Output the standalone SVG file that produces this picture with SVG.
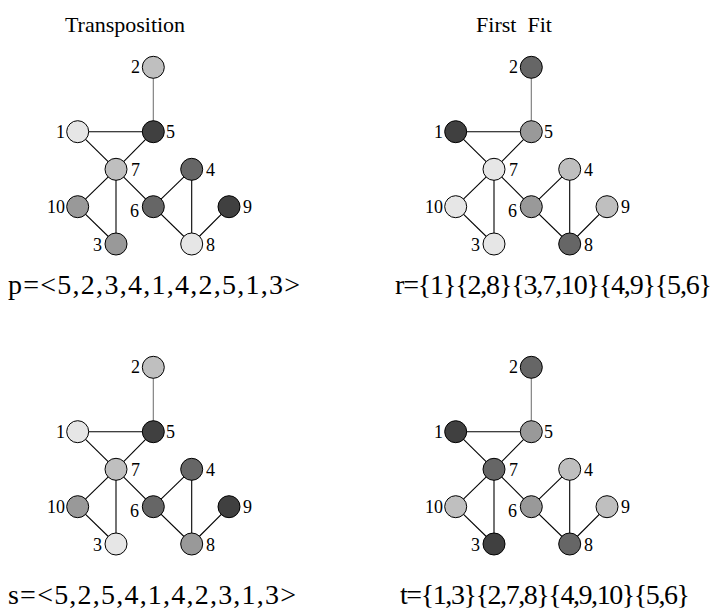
<svg xmlns="http://www.w3.org/2000/svg" width="714" height="612" viewBox="0 0 714 612" font-family="'Liberation Serif','Times New Roman',serif">
<style>
text{font-family:"Liberation Serif","Times New Roman",serif;fill:#000}
.t{font-size:22px;text-anchor:middle}
.f{font-size:28px}
.l{font-size:18px}
.e{text-anchor:end}
circle{stroke:#000;stroke-width:1}
.c1{fill:#e6e6e6}.c2{fill:#bfbfbf}.c3{fill:#999999}.c4{fill:#666666}.c5{fill:#404040}
</style>
<defs>
<g id="edgeset" stroke="#000" stroke-width="1.1">
<line stroke="#777" x1="153.3" y1="67.3" x2="153.3" y2="131.7"/>
<line x1="77.7" y1="131.7" x2="153.3" y2="131.7"/>
<line x1="77.7" y1="131.7" x2="116" y2="169.3"/>
<line x1="153.3" y1="131.7" x2="116" y2="169.3"/>
<line x1="116" y1="169.3" x2="77.7" y2="206.7"/>
<line x1="116" y1="169.3" x2="116" y2="244"/>
<line x1="116" y1="169.3" x2="153.3" y2="206.7"/>
<line x1="77.7" y1="206.7" x2="116" y2="244"/>
<line x1="153.3" y1="206.7" x2="191.7" y2="169.3"/>
<line x1="191.7" y1="169.3" x2="191.7" y2="244"/>
<line x1="153.3" y1="206.7" x2="191.7" y2="244"/>
<line x1="191.7" y1="244" x2="229" y2="206.7"/>
</g>
</defs>
<text class="t" x="125" y="32">Transposition</text>
<text class="t" x="514" y="32" xml:space="preserve">First  Fit</text>
<g id="connectors">
<use href="#edgeset"/>
<use href="#edgeset" transform="translate(378,0)"/>
<use href="#edgeset" transform="translate(0,300)"/>
<use href="#edgeset" transform="translate(378,300)"/>
</g>
<g id="graphA">
<g id="a1"><circle class="c1" cx="77.7" cy="131.7" r="11"/><text class="l e" x="65" y="137.5">1</text></g>
<g id="a2"><circle class="c2" cx="153.3" cy="67.3" r="11"/><text class="l e" x="140" y="73.3">2</text></g>
<g id="a3"><circle class="c3" cx="116" cy="244" r="11"/><text class="l e" x="102" y="251">3</text></g>
<g id="a4"><circle class="c4" cx="191.7" cy="169.3" r="11"/><text class="l" x="206" y="175.5">4</text></g>
<g id="a5"><circle class="c5" cx="153.3" cy="131.7" r="11"/><text class="l" x="166" y="137.5">5</text></g>
<g id="a6"><circle class="c4" cx="153.3" cy="206.7" r="11"/><text class="l e" x="139" y="217">6</text></g>
<g id="a7"><circle class="c2" cx="116" cy="169.3" r="11"/><text class="l" x="131" y="175.5">7</text></g>
<g id="a8"><circle class="c1" cx="191.7" cy="244" r="11"/><text class="l" x="206" y="251">8</text></g>
<g id="a9"><circle class="c5" cx="229" cy="206.7" r="11"/><text class="l" x="243" y="212.5">9</text></g>
<g id="a10"><circle class="c3" cx="77.7" cy="206.7" r="11"/><text class="l e" x="65" y="212.5">10</text></g>
</g>
<g id="graphB" transform="translate(378,0)">
<g id="b1"><circle class="c5" cx="77.7" cy="131.7" r="11"/><text class="l e" x="65" y="137.5">1</text></g>
<g id="b2"><circle class="c4" cx="153.3" cy="67.3" r="11"/><text class="l e" x="140" y="73.3">2</text></g>
<g id="b3"><circle class="c1" cx="116" cy="244" r="11"/><text class="l e" x="102" y="251">3</text></g>
<g id="b4"><circle class="c2" cx="191.7" cy="169.3" r="11"/><text class="l" x="206" y="175.5">4</text></g>
<g id="b5"><circle class="c3" cx="153.3" cy="131.7" r="11"/><text class="l" x="166" y="137.5">5</text></g>
<g id="b6"><circle class="c3" cx="153.3" cy="206.7" r="11"/><text class="l e" x="139" y="217">6</text></g>
<g id="b7"><circle class="c1" cx="116" cy="169.3" r="11"/><text class="l" x="131" y="175.5">7</text></g>
<g id="b8"><circle class="c4" cx="191.7" cy="244" r="11"/><text class="l" x="206" y="251">8</text></g>
<g id="b9"><circle class="c2" cx="229" cy="206.7" r="11"/><text class="l" x="243" y="212.5">9</text></g>
<g id="b10"><circle class="c1" cx="77.7" cy="206.7" r="11"/><text class="l e" x="65" y="212.5">10</text></g>
</g>
<g id="graphC" transform="translate(0,300)">
<g id="c1n"><circle class="c1" cx="77.7" cy="131.7" r="11"/><text class="l e" x="65" y="137.5">1</text></g>
<g id="c2n"><circle class="c2" cx="153.3" cy="67.3" r="11"/><text class="l e" x="140" y="73.3">2</text></g>
<g id="c3n"><circle class="c1" cx="116" cy="244" r="11"/><text class="l e" x="102" y="251">3</text></g>
<g id="c4n"><circle class="c4" cx="191.7" cy="169.3" r="11"/><text class="l" x="206" y="175.5">4</text></g>
<g id="c5n"><circle class="c5" cx="153.3" cy="131.7" r="11"/><text class="l" x="166" y="137.5">5</text></g>
<g id="c6n"><circle class="c4" cx="153.3" cy="206.7" r="11"/><text class="l e" x="139" y="217">6</text></g>
<g id="c7n"><circle class="c2" cx="116" cy="169.3" r="11"/><text class="l" x="131" y="175.5">7</text></g>
<g id="c8n"><circle class="c3" cx="191.7" cy="244" r="11"/><text class="l" x="206" y="251">8</text></g>
<g id="c9n"><circle class="c5" cx="229" cy="206.7" r="11"/><text class="l" x="243" y="212.5">9</text></g>
<g id="c10n"><circle class="c3" cx="77.7" cy="206.7" r="11"/><text class="l e" x="65" y="212.5">10</text></g>
</g>
<g id="graphD" transform="translate(378,300)">
<g id="d1"><circle class="c5" cx="77.7" cy="131.7" r="11"/><text class="l e" x="65" y="137.5">1</text></g>
<g id="d2"><circle class="c4" cx="153.3" cy="67.3" r="11"/><text class="l e" x="140" y="73.3">2</text></g>
<g id="d3"><circle class="c5" cx="116" cy="244" r="11"/><text class="l e" x="102" y="251">3</text></g>
<g id="d4"><circle class="c2" cx="191.7" cy="169.3" r="11"/><text class="l" x="206" y="175.5">4</text></g>
<g id="d5"><circle class="c3" cx="153.3" cy="131.7" r="11"/><text class="l" x="166" y="137.5">5</text></g>
<g id="d6"><circle class="c3" cx="153.3" cy="206.7" r="11"/><text class="l e" x="139" y="217">6</text></g>
<g id="d7"><circle class="c4" cx="116" cy="169.3" r="11"/><text class="l" x="131" y="175.5">7</text></g>
<g id="d8"><circle class="c4" cx="191.7" cy="244" r="11"/><text class="l" x="206" y="251">8</text></g>
<g id="d9"><circle class="c2" cx="229" cy="206.7" r="11"/><text class="l" x="243" y="212.5">9</text></g>
<g id="d10"><circle class="c2" cx="77.7" cy="206.7" r="11"/><text class="l e" x="65" y="212.5">10</text></g>
</g>
<text class="f" x="8" y="294" textLength="292" lengthAdjust="spacing">p=&lt;5,2,3,4,1,4,2,5,1,3&gt;</text>
<text class="f" x="395" y="294" textLength="317" lengthAdjust="spacing">r={1}{2,8}{3,7,10}{4,9}{5,6}</text>
<text class="f" x="8" y="604" textLength="288" lengthAdjust="spacing">s=&lt;5,2,5,4,1,4,2,3,1,3&gt;</text>
<text class="f" x="400" y="604" textLength="290" lengthAdjust="spacing">t={1,3}{2,7,8}{4,9,10}{5,6}</text>
</svg>
